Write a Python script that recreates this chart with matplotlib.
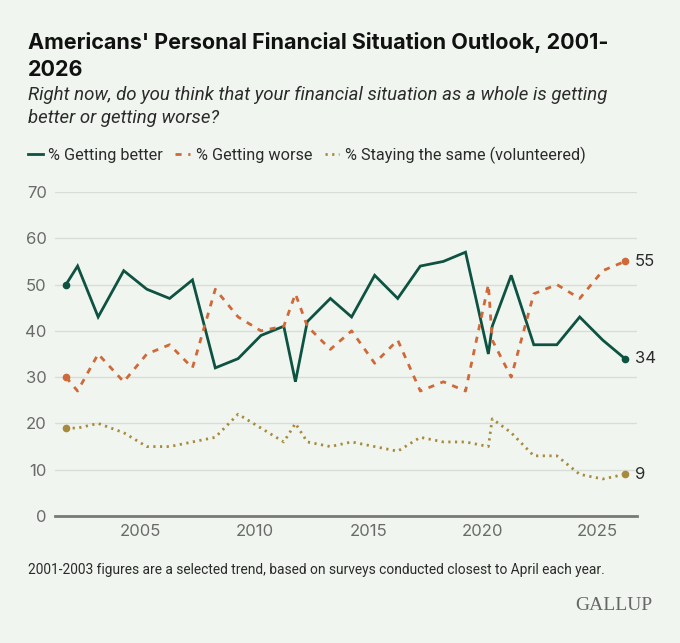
import matplotlib
matplotlib.use("Agg")
import matplotlib.pyplot as plt
from matplotlib.lines import Line2D

# survey dates (decimal years) and percentages
dates = [2001.74, 2002.25, 2003.15, 2004.27, 2005.28, 2006.28, 2007.28, 2008.28,
         2009.28, 2010.28, 2011.28, 2011.79, 2012.31, 2013.32, 2014.25, 2015.26,
         2016.27, 2017.26, 2018.27, 2019.24, 2020.24, 2020.41, 2021.24, 2022.23,
         2023.24, 2024.24, 2025.25, 2026.22]
better = [50, 54, 43, 53, 49, 47, 51, 32, 34, 39, 41, 29, 42, 47, 43, 52, 47, 54,
          55, 57, 35, 41, 52, 37, 37, 43, 38, 34]
worse = [30, 27, 35, 29, 35, 37, 32, 49, 43, 40, 41, 48, 41, 36, 40, 33, 38, 27,
         29, 27, 50, 38, 30, 48, 50, 47, 53, 55]
same = [19, 19, 20, 18, 15, 15, 16, 17, 22, 19, 16, 20, 16, 15, 16, 15, 14, 17,
        16, 16, 15, 21, 18, 13, 13, 9, 8, 9]

series_labels = ["% Getting better", "% Getting worse", "% Staying the same (volunteered)"]
x_ticks = [2005, 2010, 2015, 2020, 2025]
y_ticks = [0, 10, 20, 30, 40, 50, 60, 70]

BG = "#f0f6ef"
GREEN = "#0e5242"
ORANGE = "#d0693a"
GOLD = "#a88a3c"
TEXT = "#2b2b2b"

plt.rcParams["font.family"] = ["Inter", "DejaVu Sans"]
ROBOTO = ["Roboto", "DejaVu Sans"]

W, H = 680, 643
fig = plt.figure(figsize=(W / 100, H / 100), dpi=100, facecolor=BG)
ax = fig.add_axes([55 / W, 1 - 516 / H, (637 - 55) / W, (516 - 192) / H], facecolor=BG)

styles = [
    dict(color=GREEN, lw=2.0, ls="-"),
    dict(color=ORANGE, lw=2.0, ls=(0, (2.2, 2.4))),
    dict(color=GOLD, lw=2.0, ls=(0, (0.8, 1.6))),
]
handles = []
for vals, st, lab in zip([better, worse, same], styles, series_labels):
    ax.plot(dates, vals, solid_joinstyle="miter", **st)
    ax.plot([dates[0], dates[-1]], [vals[0], vals[-1]], "o", color=st["color"], ms=4.5)
    ax.text(dates[-1] + 0.45, vals[-1], str(vals[-1]), va="center", ha="left",
            fontsize=12, color=TEXT, clip_on=False)
    handles.append(Line2D([], [], **st))

ax.set_xlim(2001.26, 2026.75)
ax.set_ylim(0, 70)
ax.set_yticks(y_ticks)
ax.set_xticks(x_ticks)
ax.tick_params(length=0, labelsize=12, colors="#6a6a6a", pad=6)
ax.grid(axis="y", color="#d9ddd6", lw=1)
ax.set_axisbelow(True)
for s in ["top", "right", "left"]:
    ax.spines[s].set_visible(False)
ax.spines["bottom"].set_color("#777a75")
ax.spines["bottom"].set_linewidth(2)
ax.spines["bottom"].set_zorder(3)

fig.text(28 / W, 1 - 56 / H, "Americans' Personal Financial Situation Outlook, 2001-\n2026",
         fontsize=15.5, fontweight="bold", color="#111111", va="center", ha="left",
         linespacing=1.38)
fig.text(28 / W, 1 - 106.5 / H,
         "Right now, do you think that your financial situation as a whole is getting\nbetter or getting worse?",
         fontsize=13.4, style="italic", color=TEXT, va="center", ha="left",
         linespacing=1.32, family=ROBOTO)

leg = fig.legend(handles, series_labels, loc="center left", bbox_to_anchor=(28 / W, 1 - 155 / H),
                 ncol=3, frameon=False, borderpad=0, borderaxespad=0,
                 handlelength=0.9, handletextpad=0.36, columnspacing=0.75,
                 prop={"family": ROBOTO, "size": 11.7})
for t in leg.get_texts():
    t.set_color(TEXT)

fig.text(28 / W, 1 - 570 / H,
         "2001-2003 figures are a selected trend, based on surveys conducted closest to April each year.",
         fontsize=9.9, color=TEXT, va="center", ha="left", family=ROBOTO)
fig.text(652 / W, 1 - 605 / H, "GALLUP", fontsize=14, color="#666666", va="center", ha="right",
         family=["Liberation Serif", "DejaVu Serif"])

fig.savefig("out.png", dpi=100, facecolor=BG)
